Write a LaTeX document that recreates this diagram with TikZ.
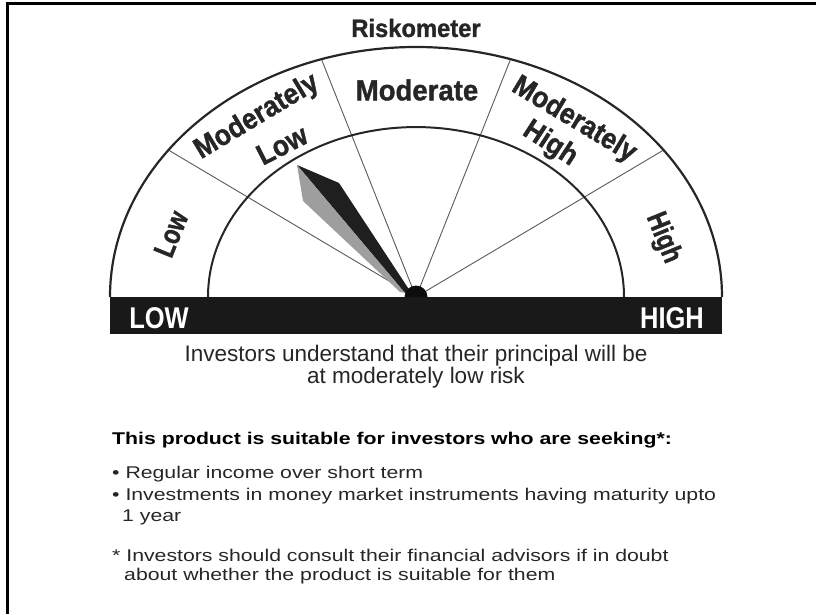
\documentclass[tikz,border=0pt]{standalone}
\usepackage{fontspec}
\setmainfont{Liberation Sans}
\newfontfamily\lblh[FakeStretch=0.95,FakeBold=1.2]{Liberation Sans}
\newfontfamily\lbld[FakeStretch=0.91,FakeBold=1.2]{Liberation Sans}
\newfontfamily\lblv[FakeStretch=0.80,FakeBold=1.2]{Liberation Sans}
\newfontfamily\barf[FakeStretch=0.85]{Liberation Sans}
\newfontfamily\invf[FakeStretch=1.0]{Liberation Sans}
\newfontfamily\bodyf[FakeStretch=1.25]{Liberation Sans}
\begin{document}
\begin{tikzpicture}[x=1pt,y=1pt,
  lbl/.style={text=black!85, inner sep=0pt},
  hlabel/.style={lbl, font=\lblh\bfseries\fontsize{29}{29}\selectfont},
  dlabel/.style={lbl, font=\lbld\bfseries\fontsize{29}{29}\selectfont},
  vlabel/.style={lbl, font=\lblv\bfseries\fontsize{29}{29}\selectfont},
  barlabel/.style={font=\barf\bfseries\fontsize{30}{30}\selectfont, text=white, inner sep=0pt},
  bodytext/.style={font=\bodyf\fontsize{17}{20}\selectfont, text=black!85, inner sep=0pt, anchor=west},
  divider/.style={draw=black!65, line width=0.9pt},
  arcline/.style={draw=black!85, line width=2.2pt}]
\useasboundingbox (0,0) rectangle (816,614);
% frame (top and left)
\draw[line width=3pt] (6,610) -- (816,610);
\draw[line width=3pt] (7.5,611.5) -- (7.5,0);
% gauge
\coordinate (C) at (416,317);
\begin{scope}[shift={(C)}, yscale=0.817]
  \foreach \a in {36,72,108,144} \draw[divider] (0,0) -- (\a:306);
  \draw[arcline] (306,0) arc[start angle=0, end angle=180, radius=306];
  \draw[arcline, line width=2pt] (208,0) arc[start angle=0, end angle=180, radius=208];
\end{scope}
% needle
\fill[black!88] (297,449) -- (339,431) -- (410,323) -- (405,321) -- cycle;
\fill[black!38] (297,449) -- (405,321) -- (400,322) -- (303,413) -- cycle;
% bar
\fill[black!90] (110,317) rectangle (722,280);
\fill[black!95] (C) ++(11.5,0) arc[start angle=0, end angle=180, radius=11.5] -- cycle;
% labels
\node[hlabel, font=\lblh\bfseries\fontsize{25}{25}\selectfont] (title) at (416,586) {Riskometer};
\node[hlabel] (mod) at (417,524) {Moderate};
\node[dlabel, rotate=31] (modlowa) at (257,497) {Moderately};
\node[dlabel, rotate=27] (modlowb) at (282,469) {Low};
\node[dlabel, rotate=-31] (modhigha) at (574,494) {Moderately};
\node[dlabel, rotate=-33] (modhighb) at (550,470) {High};
\node[vlabel, rotate=68] (low) at (171,380) {Low};
\node[vlabel, rotate=-68] (high) at (663,376) {High};
\node[barlabel] (barlow) at (159,296) {LOW};
\node[barlabel] (barhigh) at (672,296) {HIGH};
\node[font=\invf\fontsize{22.5}{22}\selectfont, text=black!85, align=center, inner sep=0pt] (inv) at (416,247) {Investors understand that their principal will be\\at moderately low risk};
\node[bodytext, font=\bodyf\bfseries\fontsize{17}{20}\selectfont, text=black] (suit) at (112,174) {This product is suitable for investors who are seeking*:};
\node[bodytext] (b1) at (112,140) {\textbullet\ Regular income over short term};
\node[bodytext] (b2) at (112,118) {\textbullet\ Investments in money market instruments having maturity upto};
\node[bodytext] (b2b) at (122,97) {1 year};
\node[bodytext] (f1) at (112,59) {* Investors should consult their financial advisors if in doubt};
\node[bodytext] (f2) at (124,38) {about whether the product is suitable for them};
\end{tikzpicture}
\end{document}
